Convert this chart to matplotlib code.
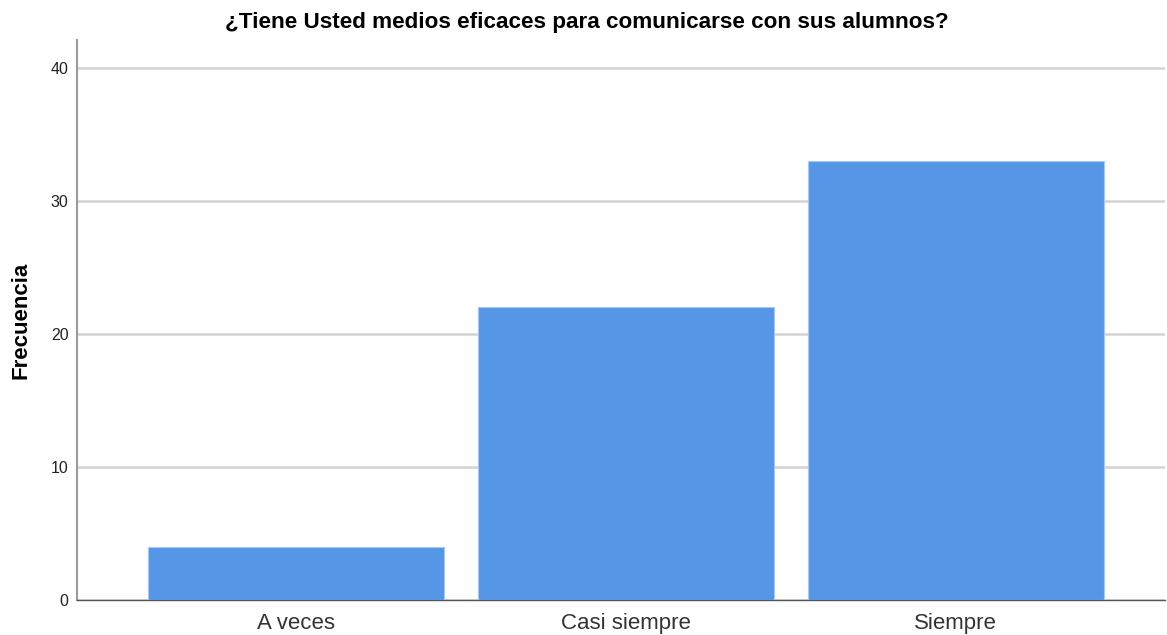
import numpy as np
import matplotlib.pyplot as plt

plt.rcParams['font.family'] = ['Liberation Sans', 'DejaVu Sans']

categorias = ['A veces', 'Casi siempre', 'Siempre']
frecuencia = [4, 22, 33]
titulo = '¿Tiene Usted medios eficaces para comunicarse con sus alumnos?'

fig = plt.figure(figsize=(11.67, 6.35), dpi=100)
ax = fig.add_axes([0.066, 0.055, 0.932, 0.882])

x = np.arange(len(categorias))
ax.bar(x, frecuencia, width=0.897, color='#5596e6', edgecolor='#a9c8f0',
       linewidth=0.8, zorder=3)

ax.set_xlim(-0.664, 2.633)
ax.set_ylim(0, 42.1)
ax.set_yticks([0, 10, 20, 30, 40])
ax.set_xticks(x)
ax.set_xticklabels(categorias, fontsize=16, color='#333333')
ax.tick_params(axis='y', length=0, labelsize=11.5, pad=6, colors='#222222')
ax.tick_params(axis='x', length=0, pad=9)

ax.grid(axis='y', color='#d3d3d3', linewidth=1.8, zorder=0)
for s in ['top', 'right']:
    ax.spines[s].set_visible(False)
ax.spines['left'].set_color('#9a9a9a')
ax.spines['left'].set_linewidth(1.5)
ax.spines['bottom'].set_color('#555555')
ax.spines['bottom'].set_linewidth(1.0)

ax.set_ylabel('Frecuencia', fontsize=16, fontweight='bold', labelpad=14)
fig.text(0.503, 0.964, titulo, fontsize=16.2, fontweight='bold',
         ha='center', va='center')

fig.savefig('out.png', dpi=100)
